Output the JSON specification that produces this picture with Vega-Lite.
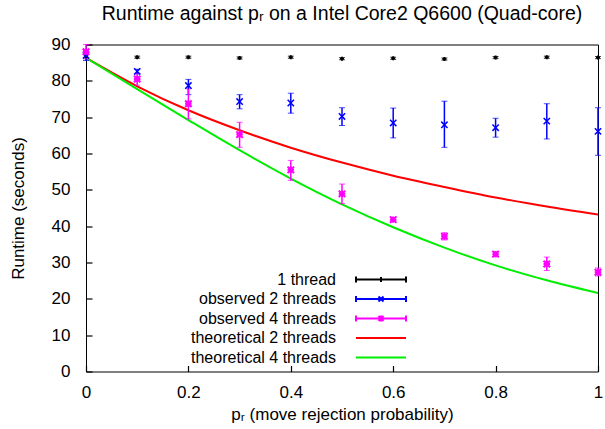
{
  "$schema": "https://vega.github.io/schema/vega-lite/v6.json",
  "autosize": "none",
  "width": 512,
  "height": 327,
  "padding": {"left": 86, "top": 44.5, "right": 7, "bottom": 57.5},
  "background": "white",
  "config": {
    "font": "Liberation Sans",
    "view": {"stroke": "black", "strokeWidth": 1},
    "axis": {
      "labelFont": "Liberation Sans",
      "titleFont": "Liberation Sans",
      "labelFontSize": 17,
      "titleFontSize": 17,
      "titleFontWeight": "normal",
      "labelColor": "black",
      "titleColor": "black",
      "tickColor": "black",
      "tickWidth": 1.2,
      "tickOpacity": 1,
      "domainColor": "black",
      "grid": false,
      "zindex": 2
    },
    "legend": {
      "labelFont": "Liberation Sans",
      "labelFontSize": 16,
      "labelColor": "black"
    }
  },
  "title": {
    "text": "Runtime against pᵣ on a Intel Core2 Q6600 (Quad-core)",
    "font": "Liberation Sans",
    "fontSize": 19.5,
    "fontWeight": "normal",
    "color": "black",
    "anchor": "middle",
    "offset": 11
  },
  "datasets": {
    "obs": [
      {"series": "1 thread", "p": 0.0, "y": 86.8, "lo": 86.3, "hi": 87.3},
      {"series": "1 thread", "p": 0.1, "y": 86.5, "lo": 86.2, "hi": 86.8},
      {"series": "1 thread", "p": 0.2, "y": 86.5, "lo": 86.2, "hi": 86.8},
      {"series": "1 thread", "p": 0.3, "y": 86.3, "lo": 86.0, "hi": 86.6},
      {"series": "1 thread", "p": 0.4, "y": 86.5, "lo": 86.2, "hi": 86.8},
      {"series": "1 thread", "p": 0.5, "y": 86.1, "lo": 85.8, "hi": 86.4},
      {"series": "1 thread", "p": 0.6, "y": 86.2, "lo": 85.9, "hi": 86.5},
      {"series": "1 thread", "p": 0.7, "y": 86.0, "lo": 85.7, "hi": 86.3},
      {"series": "1 thread", "p": 0.8, "y": 86.4, "lo": 86.1, "hi": 86.7},
      {"series": "1 thread", "p": 0.9, "y": 86.5, "lo": 86.2, "hi": 86.8},
      {"series": "1 thread", "p": 1.0, "y": 86.4, "lo": 86.1, "hi": 86.7},
      {"series": "observed 2 threads", "p": 0.0, "y": 87.0, "lo": 85.6, "hi": 88.3},
      {"series": "observed 2 threads", "p": 0.1, "y": 82.6, "lo": 81.9, "hi": 83.2},
      {"series": "observed 2 threads", "p": 0.2, "y": 78.7, "lo": 76.2, "hi": 80.4},
      {"series": "observed 2 threads", "p": 0.3, "y": 74.3, "lo": 72.3, "hi": 76.2},
      {"series": "observed 2 threads", "p": 0.4, "y": 73.9, "lo": 71.1, "hi": 76.6},
      {"series": "observed 2 threads", "p": 0.5, "y": 70.2, "lo": 67.7, "hi": 72.6},
      {"series": "observed 2 threads", "p": 0.6, "y": 68.4, "lo": 64.3, "hi": 72.5},
      {"series": "observed 2 threads", "p": 0.7, "y": 67.9, "lo": 61.7, "hi": 74.4},
      {"series": "observed 2 threads", "p": 0.8, "y": 67.1, "lo": 64.5, "hi": 69.7},
      {"series": "observed 2 threads", "p": 0.9, "y": 68.9, "lo": 64.0, "hi": 73.7},
      {"series": "observed 2 threads", "p": 1.0, "y": 66.1, "lo": 59.5, "hi": 72.6},
      {"series": "observed 4 threads", "p": 0.0, "y": 88.0, "lo": 86.0, "hi": 90.0},
      {"series": "observed 4 threads", "p": 0.1, "y": 80.5, "lo": 78.8, "hi": 82.0},
      {"series": "observed 4 threads", "p": 0.2, "y": 73.7, "lo": 69.5, "hi": 77.8},
      {"series": "observed 4 threads", "p": 0.3, "y": 65.2, "lo": 61.7, "hi": 68.6},
      {"series": "observed 4 threads", "p": 0.4, "y": 55.5, "lo": 52.6, "hi": 58.1},
      {"series": "observed 4 threads", "p": 0.5, "y": 48.9, "lo": 46.2, "hi": 51.6},
      {"series": "observed 4 threads", "p": 0.6, "y": 41.8, "lo": 41.3, "hi": 42.3},
      {"series": "observed 4 threads", "p": 0.7, "y": 37.2, "lo": 36.2, "hi": 38.2},
      {"series": "observed 4 threads", "p": 0.8, "y": 32.3, "lo": 31.7, "hi": 32.9},
      {"series": "observed 4 threads", "p": 0.9, "y": 29.6, "lo": 27.8, "hi": 31.5},
      {"series": "observed 4 threads", "p": 1.0, "y": 27.3, "lo": 26.3, "hi": 28.5}
    ],
    "theory": [
      {"series": "theoretical 2 threads", "p": 0.0, "y": 86.3},
      {"series": "theoretical 2 threads", "p": 0.1, "y": 78.5},
      {"series": "theoretical 2 threads", "p": 0.2, "y": 71.9},
      {"series": "theoretical 2 threads", "p": 0.3, "y": 66.4},
      {"series": "theoretical 2 threads", "p": 0.4, "y": 61.6},
      {"series": "theoretical 2 threads", "p": 0.5, "y": 57.5},
      {"series": "theoretical 2 threads", "p": 0.6, "y": 53.9},
      {"series": "theoretical 2 threads", "p": 0.7, "y": 50.8},
      {"series": "theoretical 2 threads", "p": 0.8, "y": 47.9},
      {"series": "theoretical 2 threads", "p": 0.9, "y": 45.4},
      {"series": "theoretical 2 threads", "p": 1.0, "y": 43.2},
      {"series": "theoretical 4 threads", "p": 0.0, "y": 86.3},
      {"series": "theoretical 4 threads", "p": 0.1, "y": 77.7},
      {"series": "theoretical 4 threads", "p": 0.2, "y": 69.2},
      {"series": "theoretical 4 threads", "p": 0.3, "y": 60.9},
      {"series": "theoretical 4 threads", "p": 0.4, "y": 53.1},
      {"series": "theoretical 4 threads", "p": 0.5, "y": 46.0},
      {"series": "theoretical 4 threads", "p": 0.6, "y": 39.7},
      {"series": "theoretical 4 threads", "p": 0.7, "y": 34.1},
      {"series": "theoretical 4 threads", "p": 0.8, "y": 29.2},
      {"series": "theoretical 4 threads", "p": 0.9, "y": 25.1},
      {"series": "theoretical 4 threads", "p": 1.0, "y": 21.6}
    ],
    "legendrows": [
      {"series": "1 thread", "p": 0.5, "y": 45},
      {"series": "observed 2 threads", "p": 0.5, "y": 45},
      {"series": "observed 4 threads", "p": 0.5, "y": 45},
      {"series": "theoretical 2 threads", "p": 0.5, "y": 45},
      {"series": "theoretical 4 threads", "p": 0.5, "y": 45}
    ]
  },
  "encoding": {
    "x": {
      "field": "p", "type": "quantitative",
      "scale": {"domain": [0, 1], "nice": false},
      "axis": {
        "values": [0, 0.2, 0.4, 0.6, 0.8, 1],
        "labelExpr": "datum.value === 0 ? '0' : datum.value === 1 ? '1' : format(datum.value, '.1f')",
        "title": "pᵣ (move rejection probability)",
        "ticks": true,
        "tickSize": 6,
        "offset": -6,
        "labelPadding": 13,
        "titlePadding": 6,
        "domain": false,
        "labelFlush": false
      }
    },
    "color": {
      "field": "series", "type": "nominal",
      "scale": {
        "domain": ["1 thread", "observed 2 threads", "observed 4 threads", "theoretical 2 threads", "theoretical 4 threads"],
        "range": ["#000000", "#0000ff", "#ff00ff", "#ff0000", "#00ee00"]
      },
      "legend": {
        "title": null,
        "orient": "none",
        "legendX": 287,
        "legendY": 227,
        "padding": 0,
        "symbolSize": 100,
        "symbolStrokeWidth": 2,
        "symbolOpacity": 1,
        "symbolFillColor": "transparent",
        "labelAlign": "right",
        "labelOffset": -53,
        "rowPadding": 3.5,
        "labelLimit": 300
      }
    }
  },
  "layer": [
    {
      "data": {"name": "theory"},
      "mark": {"type": "line", "interpolate": "monotone", "strokeWidth": 2, "clip": true},
      "encoding": {
        "y": {
          "field": "y", "type": "quantitative",
          "scale": {"domain": [0, 90], "nice": false},
          "axis": {"values": [0, 10, 20, 30, 40, 50, 60, 70, 80, 90], "title": "Runtime (seconds)", "ticks": true, "tickSize": 6, "offset": -6, "labelPadding": 16, "titlePadding": 24, "domain": false}
        }
      }
    },
    {
      "data": {"name": "obs"},
      "mark": {"type": "errorbar", "ticks": {"size": 6, "strokeWidth": 1.5}, "rule": {"strokeWidth": 1.5}},
      "encoding": {
        "y": {"field": "lo", "type": "quantitative", "axis": {"values": [0, 10, 20, 30, 40, 50, 60, 70, 80, 90], "title": "Runtime (seconds)", "ticks": true, "tickSize": 6, "offset": -6, "labelPadding": 16, "titlePadding": 24, "domain": false}},
        "y2": {"field": "hi"}
      }
    },
    {
      "data": {"name": "obs"},
      "transform": [{"filter": "datum.series === '1 thread'"}],
      "mark": {"type": "point", "shape": "M-1,0H1M0,-1V1", "size": 16, "strokeWidth": 2, "filled": false, "opacity": 1},
      "encoding": {
        "y": {"field": "y", "type": "quantitative", "axis": {"values": [0, 10, 20, 30, 40, 50, 60, 70, 80, 90], "title": "Runtime (seconds)", "ticks": true, "tickSize": 6, "offset": -6, "labelPadding": 16, "titlePadding": 24, "domain": false}}
      }
    },
    {
      "data": {"name": "obs"},
      "transform": [{"filter": "datum.series === 'observed 2 threads'"}],
      "mark": {"type": "point", "shape": "M-1,-1L1,1M-1,1L1,-1", "size": 40, "strokeWidth": 1.5, "filled": false, "opacity": 1},
      "encoding": {
        "y": {"field": "y", "type": "quantitative", "axis": {"values": [0, 10, 20, 30, 40, 50, 60, 70, 80, 90], "title": "Runtime (seconds)", "ticks": true, "tickSize": 6, "offset": -6, "labelPadding": 16, "titlePadding": 24, "domain": false}}
      }
    },
    {
      "data": {"name": "obs"},
      "transform": [{"filter": "datum.series === 'observed 4 threads'"}],
      "mark": {"type": "point", "shape": "M-1,-1L1,1M-1,1L1,-1M-1,0H1M0,-1V1", "size": 42, "strokeWidth": 2, "filled": false, "opacity": 1},
      "encoding": {
        "y": {"field": "y", "type": "quantitative", "axis": {"values": [0, 10, 20, 30, 40, 50, 60, 70, 80, 90], "title": "Runtime (seconds)", "ticks": true, "tickSize": 6, "offset": -6, "labelPadding": 16, "titlePadding": 24, "domain": false}}
      }
    },
    {
      "data": {"name": "legendrows"},
      "mark": {"type": "point", "filled": false, "opacity": 0, "strokeWidth": 2},
      "encoding": {
        "y": {"field": "y", "type": "quantitative", "axis": {"values": [0, 10, 20, 30, 40, 50, 60, 70, 80, 90], "title": "Runtime (seconds)", "ticks": true, "tickSize": 6, "offset": -6, "labelPadding": 16, "titlePadding": 24, "domain": false}},
        "shape": {
          "field": "series", "type": "nominal",
          "scale": {
            "domain": ["1 thread", "observed 2 threads", "observed 4 threads", "theoretical 2 threads", "theoretical 4 threads"],
            "range": [
              "M-5,0H5M-5,-0.6V0.6M5,-0.6V0.6M0,-0.5V0.5",
              "M-5,0H5M-5,-0.6V0.6M5,-0.6V0.6M-0.5,-0.5L0.5,0.5M-0.5,0.5L0.5,-0.5",
              "M-5,0H5M-5,-0.6V0.6M5,-0.6V0.6M-0.5,-0.5L0.5,0.5M-0.5,0.5L0.5,-0.5M0,-0.6V0.6",
              "M-5,0H5",
              "M-5,0H5"
            ]
          },
          "legend": {
            "title": null,
            "orient": "none",
            "legendX": 287,
            "legendY": 227,
            "padding": 0,
            "symbolSize": 100,
            "symbolStrokeWidth": 2,
            "symbolOpacity": 1,
            "symbolFillColor": "transparent",
            "labelAlign": "right",
            "labelOffset": -53,
            "rowPadding": 3.5,
            "labelLimit": 300
          }
        }
      }
    }
  ]
}
